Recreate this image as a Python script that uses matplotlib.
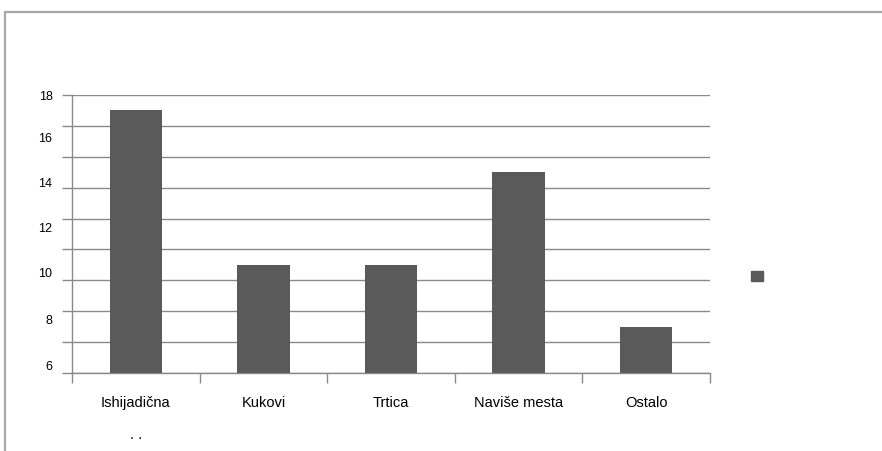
import matplotlib
matplotlib.use("Agg")
import matplotlib.pyplot as plt
from matplotlib.patches import Rectangle, Patch
import numpy as np

categories = ["Ishijadična\n. .", "Kukovi", "Trtica", "Naviše mesta", "Ostalo"]
values = [17, 7, 7, 13, 3]
y_labels = ["18", "16", "14", "12", "10", "8", "6"]
y_label_pos = [18.0, 15.3, 12.4, 9.5, 6.55, 3.5, 0.55]
grid_values = list(range(0, 19, 2))

plt.rcParams['font.family'] = ['Liberation Sans Narrow', 'Liberation Sans', 'DejaVu Sans']

fig = plt.figure(figsize=(8.82, 4.52), dpi=100)
W, H = 882, 452
ax = fig.add_axes([72 / W, 1 - 374 / H, (710 - 72) / W, (374 - 96) / H])

bar_color = "#5a5a5a"
grid_color = "#8a8a8a"
x = np.arange(len(categories))
ax.bar(x, values, width=0.41, color=bar_color, zorder=3)

ax.set_xlim(-0.5, len(categories) - 0.5)
ax.set_ylim(0, 18)

ax.yaxis.remove_overlapping_locs = False
ax.set_yticks(grid_values)
ax.set_yticklabels([])
ax.set_yticks(y_label_pos, y_labels, minor=True)
ax.tick_params(axis='y', which='major', length=7, color=grid_color, width=1, direction='out')
ax.tick_params(axis='y', which='minor', length=0, pad=14, labelsize=9, colors='black')
ax.yaxis.grid(True, which='major', color=grid_color, linewidth=1, zorder=0)

ax.set_xticks(x, categories)
ax.set_xticks(np.arange(-0.5, len(categories), 1.0), minor=True)
ax.tick_params(axis='x', which='major', length=0, pad=16, labelsize=10.5)
ax.tick_params(axis='x', which='minor', length=7, color=grid_color, width=1, direction='out')
for lbl in ax.get_xticklabels():
    lbl.set_verticalalignment('top')
    lbl.set_linespacing(2.6)

for s in ['top', 'right']:
    ax.spines[s].set_visible(False)
for s in ['left', 'bottom']:
    ax.spines[s].set_color(grid_color)
    ax.spines[s].set_linewidth(1)

handle = Patch(facecolor=bar_color, edgecolor=bar_color)
fig.legend([handle], [""], loc='center', bbox_to_anchor=(757 / W, 1 - 278 / H),
           frameon=False, handlelength=0.8, handleheight=0.8, handletextpad=0,
           borderpad=0, borderaxespad=0)

fig.patches.append(Rectangle((5 / W, -0.1), 1.2, 1 - 13 / H + 0.1, transform=fig.transFigure,
                             fill=False, edgecolor="#a8a8a8", linewidth=1.6, zorder=0))

fig.savefig("out.png", dpi=100)
